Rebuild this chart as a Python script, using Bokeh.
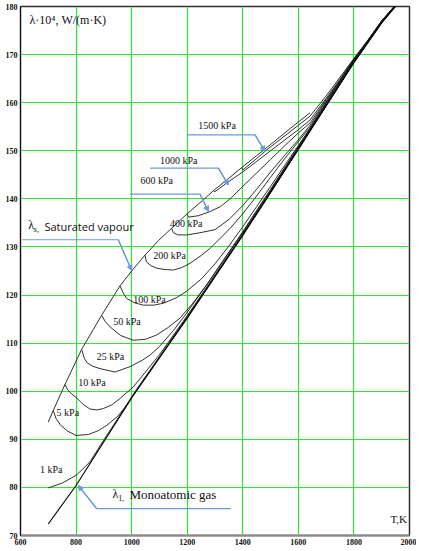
from bokeh.plotting import figure
from bokeh.models import Range1d, FixedTicker, Arrow, NormalHead
from bokeh.core.properties import value
from bokeh.embed import file_html
from bokeh.resources import INLINE

# ---------------- data ----------------
x_ticks = [600, 800, 1000, 1200, 1400, 1600, 1800, 2000]
y_ticks = [70, 80, 90, 100, 110, 120, 130, 140, 150, 160, 170, 180]

gas_T = [700, 800, 900, 1000, 1100, 1200, 1300, 1400, 1500, 1600, 1700, 1800, 1900, 1970]
gas_L = [72.4, 80.4, 89.5, 98.6, 106.9, 115.2, 123.8, 132.4, 141.3, 150.3, 159.3, 168.3, 176.6, 181.4]

sat_T = [700, 718, 760, 820, 892, 958, 1000, 1048, 1096, 1144, 1198, 1264, 1294, 1350, 1396, 1450, 1500, 1570, 1642]
sat_L = [93.6, 96.0, 101.4, 108.7, 115.8, 121.9, 125.0, 128.3, 131.3, 133.9, 136.8, 140.1, 141.7, 144.3, 146.5, 149.0, 151.3, 154.6, 157.9]

p1_T = [700, 750, 800, 850, 900, 950, 1000, 1100, 1200, 1300, 1400, 1500, 1600, 1700, 1800, 1900, 1970]
p1_L = [79.9, 80.9, 82.5, 85.3, 89.9, 94.3, 98.8, 107.0, 115.3, 123.9, 132.5, 141.4, 150.4, 159.35, 168.35, 176.65, 181.45]

p5_T = [718, 728, 745, 770, 800, 844, 880, 910, 950, 982, 1018, 1100, 1200, 1300, 1400, 1500, 1600, 1700, 1800, 1900, 1970]
p5_L = [96.0, 94.3, 92.9, 91.7, 90.8, 91.0, 91.8, 92.9, 94.8, 97.1, 100.4, 107.2, 115.5, 124.0, 132.6, 141.5, 150.5, 159.4, 168.4, 176.7, 181.5]

p10_T = [760, 770, 785, 802, 825, 850, 875, 898, 930, 958, 1006, 1050, 1100, 1200, 1300, 1400, 1500, 1600, 1700, 1800, 1900, 1970]
p10_L = [101.4, 100.3, 99.4, 98.6, 97.3, 96.3, 96.1, 96.4, 97.2, 98.5, 100.9, 104.0, 107.6, 115.7, 124.2, 132.7, 141.6, 150.6, 159.5, 168.45, 176.7, 181.5]

p25_T = [820, 830, 840, 860, 886, 940, 994, 1040, 1066, 1100, 1150, 1200, 1300, 1400, 1500, 1600, 1700, 1800, 1900, 1970]
p25_L = [108.7, 106.8, 105.9, 105.2, 104.7, 104.0, 105.1, 106.5, 107.5, 109.3, 112.6, 116.4, 124.6, 133.0, 141.8, 150.7, 159.6, 168.5, 176.75, 181.5]

p50_T = [892, 905, 922, 960, 1006, 1050, 1090, 1130, 1174, 1220, 1270, 1300, 1400, 1500, 1600, 1700, 1800, 1900, 1970]
p50_L = [115.8, 114.5, 113.4, 111.6, 110.6, 110.8, 111.7, 113.2, 115.2, 118.3, 122.1, 124.7, 133.2, 142.0, 150.9, 159.75, 168.6, 176.8, 181.55]

p100_T = [958, 970, 982, 1010, 1042, 1080, 1114, 1160, 1198, 1250, 1300, 1350, 1400, 1450, 1500, 1550, 1600, 1642, 1700, 1800, 1900, 1970]
p100_L = [121.9, 120.4, 119.3, 118.4, 117.9, 117.9, 118.3, 119.4, 120.8, 123.3, 126.5, 130.2, 134.2, 138.4, 142.6, 146.9, 151.1, 154.6, 159.9, 168.7, 176.85, 181.55]

p200_T = [1048, 1053, 1070, 1090, 1120, 1150, 1180, 1210, 1250, 1282, 1350, 1400, 1450, 1500, 1550, 1600, 1642, 1700, 1800, 1900, 1970]
p200_L = [128.3, 126.9, 126.1, 125.6, 125.3, 125.2, 125.7, 126.6, 128.2, 129.7, 133.6, 136.9, 140.6, 144.5, 148.3, 151.9, 154.9, 160.1, 168.8, 176.9, 181.6]

p400_T = [1144, 1150, 1166, 1200, 1250, 1300, 1350, 1400, 1450, 1500, 1550, 1600, 1642, 1700, 1800, 1900, 1970]
p400_L = [133.9, 133.0, 132.5, 132.5, 133.0, 133.6, 135.7, 138.6, 142.0, 145.6, 149.0, 152.3, 155.3, 160.4, 168.9, 176.95, 181.6]

p600_T = [1198, 1206, 1240, 1280, 1320, 1360, 1400, 1450, 1500, 1550, 1600, 1642, 1700, 1750, 1800, 1850, 1900, 1970]
p600_L = [136.8, 136.2, 136.5, 137.3, 138.4, 140.3, 142.6, 145.4, 148.2, 151.0, 153.7, 155.8, 160.6, 164.7, 168.95, 172.9, 177.0, 181.65]

p1000_T = [1294, 1300, 1342, 1400, 1450, 1500, 1550, 1600, 1642, 1700, 1750, 1800, 1850, 1900, 1970]
p1000_L = [141.7, 141.5, 143.3, 145.6, 147.8, 150.0, 152.2, 154.4, 156.4, 160.9, 164.9, 169.1, 172.9, 177.0, 181.7]

p1500_T = [1396, 1400, 1440, 1480, 1520, 1560, 1600, 1642, 1700, 1750, 1800, 1850, 1900, 1970]
p1500_L = [146.5, 146.0, 147.9, 149.9, 151.7, 153.5, 155.3, 157.2, 161.4, 165.3, 169.2, 173.0, 177.05, 181.7]

# isobar labels
lab_text = ["1500 kPa", "1000 kPa", "600 kPa", "400 kPa", "200 kPa", "100 kPa",
            "50 kPa", "25 kPa", "10 kPa", "5 kPa", "1 kPa"]
lab_T = [1240, 1102, 1032, 1138, 1078, 1006, 934, 874, 808, 730, 670]
lab_L = [155.2, 148.0, 143.75, 134.8, 128.3, 119.0, 114.6, 107.3, 101.9, 95.6, 83.75]

# callout lines (corner points), tip is the last point
call_1500_T = [1198, 1444, 1480]
call_1500_L = [153.3, 153.3, 149.9]
call_1000_T = [1066, 1312, 1348]
call_1000_L = [146.4, 146.4, 142.9]
call_600_T = [994, 1246, 1276]
call_600_L = [141.0, 141.0, 137.4]
call_sat_T = [607, 952, 1000]
call_sat_L = [131.5, 131.5, 125.1]
call_gas_T = [1357, 874, 808]
call_gas_L = [75.6, 75.6, 80.4]

# ---------------- figure ----------------
GREEN = "#2ee62e"
BLUE = "#6b9bd6"
SERIF = "Liberation Serif"

p = figure(width=416, height=547, output_backend="svg", toolbar_location=None,
           x_range=Range1d(600, 2000), y_range=Range1d(70, 180),
           min_border_left=20, min_border_right=7, min_border_top=6, min_border_bottom=10)
p.background_fill_color = "white"
p.border_fill_color = "white"
p.outline_line_color = "#303030"
p.outline_line_width = 1.5

p.xaxis.ticker = FixedTicker(ticks=x_ticks)
p.yaxis.ticker = FixedTicker(ticks=y_ticks)
for ax in (p.xaxis[0], p.yaxis[0]):
    ax.major_tick_out = 0
    ax.major_tick_in = 0
    ax.minor_tick_out = 0
    ax.minor_tick_in = 0
    ax.major_label_text_font = SERIF
    ax.major_label_text_font_size = "8px"
    ax.major_label_text_font_style = "bold"
    ax.major_label_text_color = "#111111"
    ax.major_label_standoff = 3
p.xaxis.axis_line_color = "#8a8a8a"
p.xaxis.axis_line_width = 2
p.yaxis.axis_line_color = "#111111"
p.yaxis.axis_line_width = 1

p.xgrid.ticker = FixedTicker(ticks=x_ticks)
p.ygrid.ticker = FixedTicker(ticks=y_ticks)
p.grid.grid_line_color = GREEN
p.grid.grid_line_width = 1.2

# curves
for T, L in [(p1_T, p1_L), (p5_T, p5_L), (p10_T, p10_L), (p25_T, p25_L), (p50_T, p50_L),
             (p100_T, p100_L), (p200_T, p200_L), (p400_T, p400_L), (p600_T, p600_L),
             (p1000_T, p1000_L), (p1500_T, p1500_L)]:
    p.line(T, L, line_color="#1a1a1a", line_width=0.9)
p.line(sat_T, sat_L, line_color="#1a1a1a", line_width=0.9)
p.line(gas_T, gas_L, line_color="#000000", line_width=1.1)

# callouts
for T, L in [(call_1500_T, call_1500_L), (call_1000_T, call_1000_L), (call_600_T, call_600_L),
             (call_sat_T, call_sat_L), (call_gas_T, call_gas_L)]:
    p.line(T, L, line_color=BLUE, line_width=1.2)
    p.add_layout(Arrow(end=NormalHead(size=5, fill_color=BLUE, line_color=BLUE),
                       x_start=T[1], y_start=L[1], x_end=T[2], y_end=L[2],
                       line_color=BLUE, line_width=1.2))

# isobar labels
p.text(lab_T, lab_L, text=lab_text, text_font=value(SERIF), text_font_size="10px",
       text_baseline="middle", text_align="left", text_color="#111111")

# axis titles / annotations
p.text([632], [177.1], text=["λ·10⁴, W/(m·K)"], text_font=value(SERIF), text_font_size="12px",
       text_baseline="middle", text_align="left", text_color="#111111")
p.text([1991], [73.5], text=["T,K"], text_font=value(SERIF), text_font_size="11px",
       text_baseline="middle", text_align="right", text_color="#111111")

p.text([628], [134.5], text=["λ"], text_font=value(SERIF), text_font_size="12px",
       text_baseline="middle", text_align="left", text_color="#111111")
p.text([647], [133.7], text=["s,"], text_font=value(SERIF), text_font_size="9px",
       text_font_style="italic", text_baseline="middle", text_align="left", text_color="#111111")
p.text([686], [134.2], text=["Saturated vapour"], text_font=value("Open Sans"), text_font_size="11px",
       text_baseline="middle", text_align="left", text_color="#111111")

p.text([931], [78.7], text=["λ"], text_font=value(SERIF), text_font_size="12px",
       text_baseline="middle", text_align="left", text_color="#111111")
p.text([952], [77.8], text=["1,"], text_font=value(SERIF), text_font_size="8px",
       text_baseline="middle", text_align="left", text_color="#111111")
p.text([992], [78.6], text=["Monoatomic  gas"], text_font=value(SERIF), text_font_size="13px",
       text_baseline="middle", text_align="left", text_color="#111111")

open("out.html", "w").write(file_html(p, INLINE))
